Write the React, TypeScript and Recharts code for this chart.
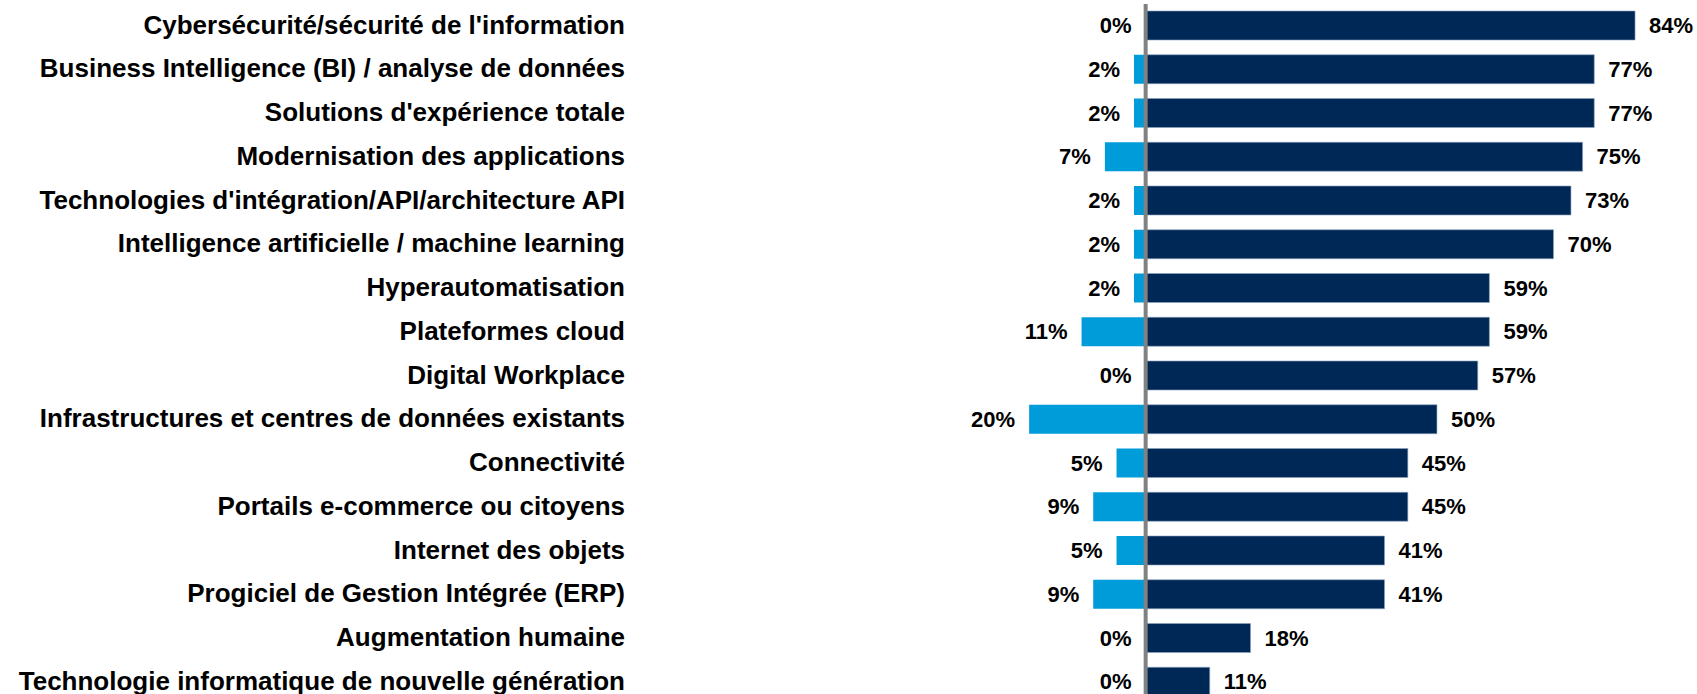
import React from "react";
import { BarChart, Bar, XAxis, YAxis, LabelList, ReferenceLine } from "recharts";

const categories = [
  "Cybersécurité/sécurité de l'information",
  "Business Intelligence (BI) / analyse de données",
  "Solutions d'expérience totale",
  "Modernisation des applications",
  "Technologies d'intégration/API/architecture API",
  "Intelligence artificielle / machine learning",
  "Hyperautomatisation",
  "Plateformes cloud",
  "Digital Workplace",
  "Infrastructures et centres de données existants",
  "Connectivité",
  "Portails e-commerce ou citoyens",
  "Internet des objets",
  "Progiciel de Gestion Intégrée (ERP)",
  "Augmentation humaine",
  "Technologie informatique de nouvelle génération",
];

const increaseValues = [84, 77, 77, 75, 73, 70, 59, 59, 57, 50, 45, 45, 41, 41, 18, 11];
const decreaseValues = [0, 2, 2, 7, 2, 2, 2, 11, 0, 20, 5, 9, 5, 9, 0, 0];

const data = categories.map((name, i) => ({
  name,
  dec: -decreaseValues[i],
  inc: increaseValues[i],
}));

const NAVY = "#002856";
const LIGHT = "#009BD9";
const FONT = "'Liberation Sans', Arial, sans-serif";
const VALUE_FONT_SIZE = 22;

const incLabel = (props: any) => {
  const { x, y, width, height, value } = props;
  const x0 = Number(x);
  const w = Number(width) || 0;
  const right = Math.max(x0, x0 + w);
  const cy = Number(y) + Number(height) / 2;
  return (
    <text
      x={right + 14}
      y={cy}
      textAnchor="start"
      dominantBaseline="central"
      fontFamily={FONT}
      fontWeight="bold"
      fontSize={VALUE_FONT_SIZE}
      fill="#000"
    >
      {Math.abs(Number(value))}%
    </text>
  );
};

// Drawn from the positive bar: its x is the zero of the value axis and its
// width / value gives the axis' pixels per unit, so the left edge of the
// negative bar follows the library's scale.
const decLabel = (props: any) => {
  const { x, y, width, height, value } = props;
  const [decStr, incStr] = String(value).split("|");
  const dec = Math.abs(Number(decStr));
  const inc = Number(incStr);
  const x0 = Number(x);
  const w = Math.abs(Number(width) || 0);
  const ppu = inc > 0 ? w / inc : 0;
  const leftEdge = x0 - dec * ppu;
  const cy = Number(y) + Number(height) / 2;
  return (
    <text
      x={leftEdge - 14}
      y={cy}
      textAnchor="end"
      dominantBaseline="central"
      fontFamily={FONT}
      fontWeight="bold"
      fontSize={VALUE_FONT_SIZE}
      fill="#000"
    >
      {dec}%
    </text>
  );
};

const CategoryTick = (props: any) => {
  const { x, y, payload } = props;
  return (
    <text
      x={x}
      y={y}
      dy="0.3em"
      textAnchor="end"
      fontFamily={FONT}
      fontWeight="bold"
      fontSize={26}
      fill="#000"
    >
      {payload.value}
    </text>
  );
};

export default function App() {
  return (
    <div style={{ position: "absolute", left: 0, top: 0, width: 1697, height: 694, overflow: "hidden", background: "#fff" }}>
      <BarChart
        width={1697}
        height={704}
        data={data}
        layout="vertical"
        stackOffset="sign"
        margin={{ top: 4, right: 27, bottom: 0, left: 0 }}
        barSize={29}
      >
        <XAxis type="number" domain={[-25, 90]} hide allowDataOverflow />
        <YAxis
          type="category"
          dataKey="name"
          width={1000}
          axisLine={false}
          tickLine={false}
          tickSize={0}
          tickMargin={375}
          interval={0}
          tick={<CategoryTick />}
        />
        <Bar dataKey="dec" stackId="s" fill={LIGHT} isAnimationActive={false} />
        <Bar dataKey="inc" stackId="s" fill={NAVY} stroke="#8fa3bd" strokeWidth={0.6} isAnimationActive={false}>
          <LabelList dataKey="inc" content={incLabel} />
          <LabelList dataKey={(d: any) => `${d.dec}|${d.inc}`} content={decLabel} />
        </Bar>
        <ReferenceLine x={0} stroke="#7f8283" strokeWidth={4} ifOverflow="extendDomain" />
      </BarChart>
    </div>
  );
}
